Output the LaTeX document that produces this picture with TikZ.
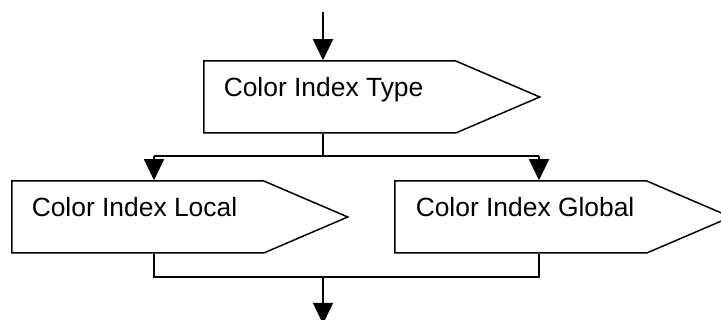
\documentclass[tikz,border=0pt]{standalone}
\usepackage{fontspec}
\setmainfont{Liberation Sans}
\usetikzlibrary{shapes.symbols,arrows.meta,calc}

\begin{document}
\begin{tikzpicture}[x=1pt,y=1pt,
    line width=1.5pt,
    cbox/.style={signal, signal to=east, signal pointer angle=46.4, draw,
      minimum width=336pt, minimum height=72pt, inner sep=0pt},
    ctext/.style={anchor=base west, inner sep=0pt,
      font=\fontsize{26.4}{30}\selectfont},
    flow/.style={-{Triangle[length=21pt,width=20pt]}}]
    \useasboundingbox (0,0) rectangle (721,320);
    % Boxes
    \node[cbox, anchor=west] (type) at (203,223) {};
    \node[ctext] (typetxt) at ($(type.west)+(20,0)$) {Color Index Type};
    \node[cbox, anchor=west] (local) at (11,103) {};
    \node[ctext] (localtxt) at ($(local.west)+(20,0)$) {Color Index Local};
    \node[cbox, anchor=west] (global) at (394,103) {};
    \node[ctext] (globaltxt) at ($(global.west)+(21,0)$) {Color Index Global};
    % Junction points
    \coordinate (in) at (323,308);
    \coordinate (lsplit) at (154,164);
    \coordinate (gsplit) at (539,164);
    \coordinate (ljoin) at (154,43);
    \coordinate (gjoin) at (539,43);
    \coordinate (out) at (323,-4);
    % Connectors
    \draw[flow] (in) -- (in |- type.north);
    \draw (type.south -| in) -- (in |- lsplit);
    \draw (lsplit) -- (gsplit);
    \draw[flow] (lsplit) -- (lsplit |- local.north);
    \draw[flow] (gsplit) -- (gsplit |- global.north);
    \draw (local.south -| ljoin) -- (ljoin) -- (gjoin) -- (global.south -| gjoin);
    \draw[flow] (out |- ljoin) -- (out);
\end{tikzpicture}
\end{document}
